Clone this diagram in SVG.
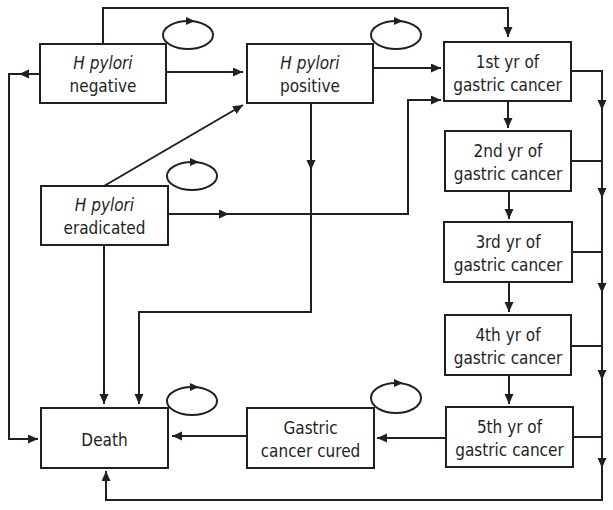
<svg xmlns="http://www.w3.org/2000/svg" width="613" height="510" viewBox="0 0 613 510">
<style>
.box{fill:#fff;stroke:#231f20;stroke-width:2}
.t{font-family:"DejaVu Sans Condensed","DejaVu Sans",sans-serif;font-stretch:condensed;font-size:17px;fill:#231f20;text-anchor:middle}
.i{font-style:italic}
.c{fill:none;stroke:#231f20;stroke-width:2;marker-end:url(#ah)}
.l{fill:none;stroke:#231f20;stroke-width:2}
.loop{fill:none;stroke:#231f20;stroke-width:2}
</style>
<defs>
<marker id="ah" markerUnits="userSpaceOnUse" markerWidth="11" markerHeight="10" refX="10" refY="4.5" orient="auto">
<path d="M0,0 L10,4.5 L0,9 z" fill="#231f20"/>
</marker>
<g id="loopArrow"><path d="M-5,-4 L4,0 L-5,4 z" fill="#231f20"/></g>
</defs>
<rect width="613" height="510" fill="#fff"/>
<g id="connectors">
<path class="c" d="M103,44 V8 H508 V37"/>
<path class="c" d="M166,72 H243"/>
<path class="c" d="M40,74 H19"/>
<path class="c" d="M19,74 H9 V439 H38"/>
<path class="c" d="M104,186 L243,105"/>
<path class="c" d="M168,214 H229"/>
<path class="c" d="M229,214 H408 V100 H441"/>
<path class="c" d="M373,68 H441"/>
<path class="c" d="M311,103 V170"/>
<path class="c" d="M311,170 V312 H139 V404"/>
<path class="c" d="M104,245 V404"/>
<path class="c" d="M508,101 V128"/>
<path class="c" d="M509,191 V219"/>
<path class="c" d="M509,282 V312"/>
<path class="c" d="M509,375 V404"/>
<path class="c" d="M571,71 H602 V110"/>
<path class="c" d="M602,110 V198"/>
<path class="c" d="M602,198 V293"/>
<path class="c" d="M602,293 V380"/>
<path class="c" d="M602,380 V468"/>
<path class="c" d="M602,468 V500 H106 V471"/>
<path class="l" d="M571,161 H602 M572,252 H602 M571,346 H602 M573,437 H602"/>
<path class="c" d="M446,438 H377"/>
<path class="c" d="M247,436 H172"/>
</g>
<g id="loops">
<ellipse class="loop" cx="188" cy="35" rx="25" ry="14"/><use href="#loopArrow" x="191" y="21"/>
<ellipse class="loop" cx="396" cy="35" rx="25" ry="14"/><use href="#loopArrow" x="399" y="21"/>
<ellipse class="loop" cx="192" cy="176" rx="25" ry="14"/><use href="#loopArrow" x="195" y="162"/>
<ellipse class="loop" cx="192" cy="401" rx="25" ry="14"/><use href="#loopArrow" x="195" y="387"/>
<ellipse class="loop" cx="396" cy="398" rx="25" ry="15"/><use href="#loopArrow" x="399" y="383"/>
</g>
<g id="node-negative">
<rect class="box" x="40" y="44" width="126" height="59"/>
<text class="t i" x="103" y="69">H pylori</text>
<text class="t" x="103" y="92">negative</text>
</g>
<g id="node-positive">
<rect class="box" x="247" y="44" width="126" height="59"/>
<text class="t i" x="310" y="69">H pylori</text>
<text class="t" x="310" y="92">positive</text>
</g>
<g id="node-eradicated">
<rect class="box" x="41" y="186" width="127" height="59"/>
<text class="t i" x="104.5" y="211">H pylori</text>
<text class="t" x="104.5" y="234">eradicated</text>
</g>
<g id="node-y1">
<rect class="box" x="444" y="42" width="127" height="59"/>
<text class="t" x="507.5" y="68">1st yr of</text>
<text class="t" x="507.5" y="91">gastric cancer</text>
</g>
<g id="node-y2">
<rect class="box" x="445" y="131" width="126" height="60"/>
<text class="t" x="508" y="157">2nd yr of</text>
<text class="t" x="508" y="180">gastric cancer</text>
</g>
<g id="node-y3">
<rect class="box" x="444" y="222" width="128" height="60"/>
<text class="t" x="508" y="248">3rd yr of</text>
<text class="t" x="508" y="271">gastric cancer</text>
</g>
<g id="node-y4">
<rect class="box" x="445" y="315" width="126" height="60"/>
<text class="t" x="508" y="341">4th yr of</text>
<text class="t" x="508" y="364">gastric cancer</text>
</g>
<g id="node-y5">
<rect class="box" x="446" y="407" width="127" height="60"/>
<text class="t" x="509.5" y="433">5th yr of</text>
<text class="t" x="509.5" y="456">gastric cancer</text>
</g>
<g id="node-cured">
<rect class="box" x="247" y="408" width="127" height="60"/>
<text class="t" x="310.5" y="434">Gastric</text>
<text class="t" x="310.5" y="457">cancer cured</text>
</g>
<g id="node-death">
<rect class="box" x="41" y="408" width="127" height="60"/>
<text class="t" x="104.5" y="446">Death</text>
</g>
</svg>
